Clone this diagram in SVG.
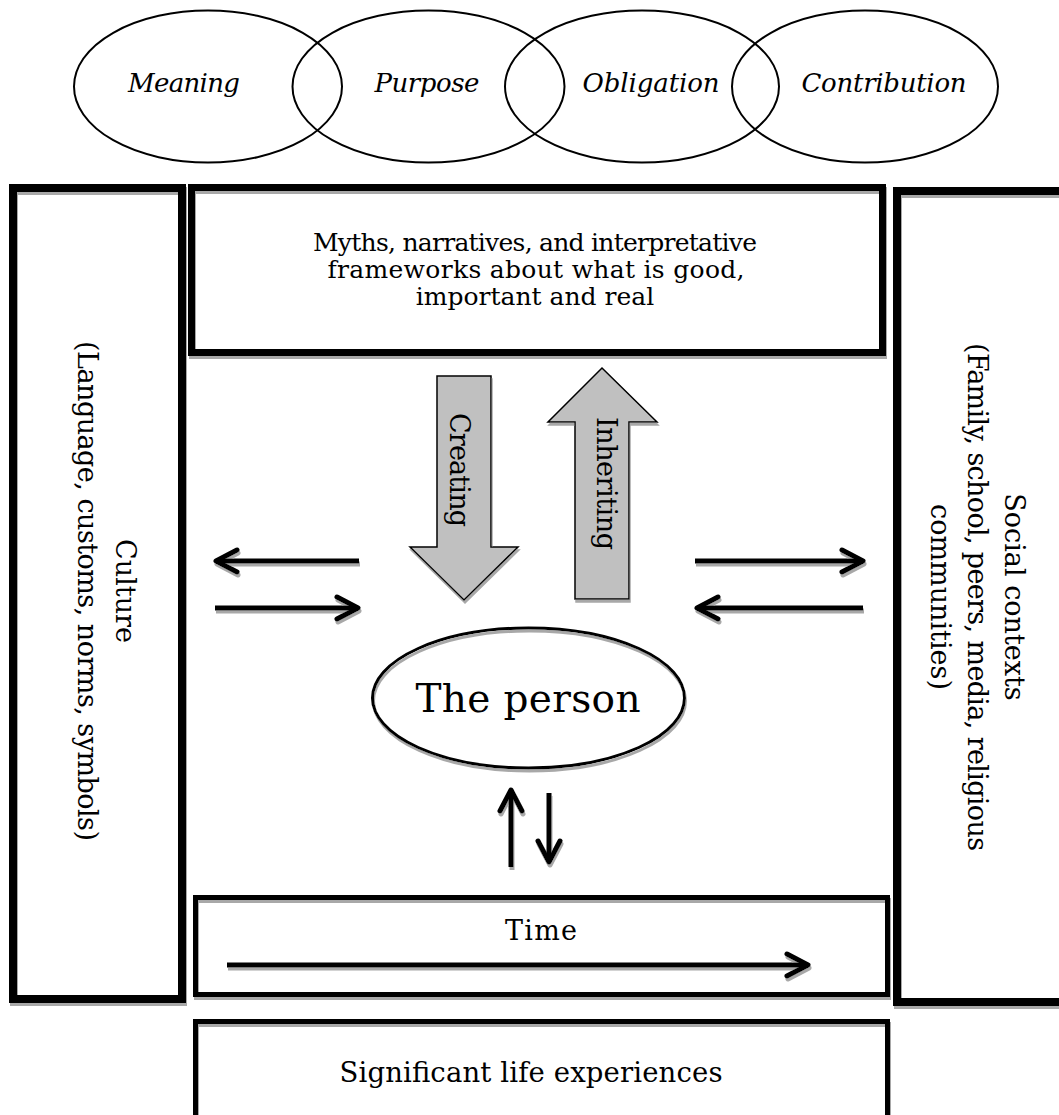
<svg xmlns="http://www.w3.org/2000/svg" width="1059" height="1115" viewBox="0 0 1059 1115">
<style>
.t{font-family:"DejaVu Serif","Liberation Serif",serif;fill:#000}
.it{font-style:italic;font-size:26px}
.box{fill:none;stroke:#000}
.ov{fill:none;stroke:#000;stroke-width:2}
.ln{fill:none;stroke:#000;stroke-width:5}
.blk{fill:#c0c0c0;stroke:#000;stroke-width:1.5}
</style>
<defs>
<filter id="sh" filterUnits="userSpaceOnUse" x="0" y="0" width="1059" height="1115">
<feDropShadow dx="1" dy="3" stdDeviation="0.4" flood-color="#a8a8a8" flood-opacity="1"/>
</filter>
<marker id="chev" markerUnits="userSpaceOnUse" viewBox="-30 -16 36 32" refX="0" refY="0" markerWidth="36" markerHeight="32" orient="auto" overflow="visible">
<path d="M-21,-11 L0,0 L-21,11" fill="none" stroke="#000" stroke-width="5" stroke-linecap="round" stroke-linejoin="round"/>
</marker>
</defs>
<rect width="1059" height="1115" fill="#fff"/>

<g id="values">
<g id="meaning"><ellipse class="ov" cx="208" cy="86.5" rx="134" ry="76"/></g>
<g id="purpose"><ellipse class="ov" cx="428.5" cy="86.5" rx="136" ry="76"/></g>
<g id="obligation"><ellipse class="ov" cx="642" cy="86.5" rx="137" ry="76"/></g>
<g id="contribution"><ellipse class="ov" cx="865" cy="86.5" rx="133" ry="76"/></g>
<text class="t it" x="184" y="92" text-anchor="middle" textLength="112">Meaning</text>
<text class="t it" x="427" y="92" text-anchor="middle" textLength="105">Purpose</text>
<text class="t it" x="651" y="92" text-anchor="middle" textLength="137">Obligation</text>
<text class="t it" x="884" y="92" text-anchor="middle" textLength="165">Contribution</text>
</g>

<g id="culture">
<rect class="box" x="13" y="188" width="169" height="811" stroke-width="8" filter="url(#sh)"/>
<g transform="translate(116,591) rotate(90)">
<text class="t" x="0" y="0" font-size="27" text-anchor="middle">Culture</text>
<text class="t" x="0" y="38" font-size="27" text-anchor="middle" textLength="500">(Language, customs, norms, symbols)</text>
</g>
</g>

<g id="myths">
<rect class="box" x="191.5" y="187.5" width="691" height="165" stroke-width="7" filter="url(#sh)"/>
<text class="t" x="535" y="251" font-size="25" text-anchor="middle" textLength="444">Myths, narratives, and interpretative</text>
<text class="t" x="536" y="278" font-size="25" text-anchor="middle" textLength="417">frameworks about what is good,</text>
<text class="t" x="535" y="305" font-size="25" text-anchor="middle">important and real</text>
</g>

<g id="social">
<rect class="box" x="897" y="191" width="200" height="811" stroke-width="8" filter="url(#sh)"/>
<g transform="translate(1005,597) rotate(90)">
<text class="t" x="0" y="0" font-size="27" text-anchor="middle">Social contexts</text>
<text class="t" x="0" y="37" font-size="27" text-anchor="middle" textLength="508">(Family, school, peers, media, religious</text>
<text class="t" x="0" y="74" font-size="27" text-anchor="middle">communities)</text>
</g>
</g>

<g id="person">
<ellipse cx="528.5" cy="698" rx="156" ry="70" fill="none" stroke="#000" stroke-width="3" filter="url(#sh)"/>
<text class="t" x="528" y="712" font-size="39" text-anchor="middle" textLength="225">The person</text>
</g>

<g id="time">
<rect class="box" x="195.5" y="897.5" width="692" height="97" stroke-width="5" filter="url(#sh)"/>
<text class="t" x="541" y="940" font-size="27" text-anchor="middle" textLength="72">Time</text>
<path class="ln" d="M227,965 H808" marker-end="url(#chev)" filter="url(#sh)"/>
</g>

<g id="experiences">
<rect class="box" x="195.5" y="1021.5" width="692" height="150" stroke-width="5" filter="url(#sh)"/>
<text class="t" x="531" y="1082" font-size="27.5" text-anchor="middle" textLength="383">Significant life experiences</text>
</g>

<g id="connectors">
<g id="creating">
<path class="blk" d="M437,376 H491 V547 H518 L464,600 L410,547 H437 Z" filter="url(#sh)"/>
<text class="t" transform="translate(450,470) rotate(90)" font-size="27" text-anchor="middle" textLength="114">Creating</text>
</g>
<g id="inheriting">
<path class="blk" d="M602,368 L657,422 H629 V599 H575 V422 H548 Z" filter="url(#sh)"/>
<text class="t" transform="translate(597,483.5) rotate(90)" font-size="27" text-anchor="middle" textLength="133">Inheriting</text>
</g>
<g filter="url(#sh)">
<path class="ln" d="M359,561 H216" marker-end="url(#chev)"/>
<path class="ln" d="M215,608 H358" marker-end="url(#chev)"/>
<path class="ln" d="M695,561 H863" marker-end="url(#chev)"/>
<path class="ln" d="M863,608 H697" marker-end="url(#chev)"/>
<path class="ln" d="M511,867 V790" marker-end="url(#chev)"/>
<path class="ln" d="M549,793 V862" marker-end="url(#chev)"/>
</g>
</g>
</svg>
